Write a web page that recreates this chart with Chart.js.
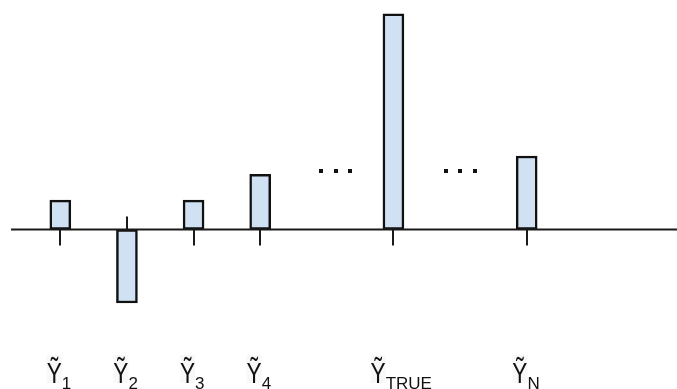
<!DOCTYPE html>
<html>
<head>
<meta charset="utf-8">
<script src="https://cdn.jsdelivr.net/npm/chart.js@4/dist/chart.umd.min.js"></script>
<style>
  html, body { margin: 0; padding: 0; background: #fff; }
  #wrap { width: 677px; height: 389px; }
</style>
</head>
<body>
<div id="wrap"><canvas id="chart" width="677" height="389"></canvas></div>
<script>
// --- data ---
const categories = ['1', '2', '3', '4', 'gap1', 'TRUE', 'gap2', 'N'];
const subscripts = ['1', '2', '3', '4', null, 'TRUE', null, 'N'];
const values = [1.2, -3, 1.2, 2.25, null, 8.8, null, 3];
const dotSlots = [4, 6];
const dotLevel = 2.4;

// axis line, ticks, dots and labels
const decorations = {
    id: 'decorations',
    afterDatasetsDraw(chart) {
        const ctx = chart.ctx;
        const xs = chart.scales.x;
        const ys = chart.scales.y;
        const y0 = ys.getPixelForValue(0);

        ctx.save();
        ctx.strokeStyle = '#1a1a1a';
        ctx.lineWidth = 2;
        ctx.beginPath();
        ctx.moveTo(11, y0);
        ctx.lineTo(chart.width, y0);
        ctx.stroke();

        values.forEach((v, i) => {
            if (v === null) return;
            const x = Math.round(xs.getPixelForValue(i));
            ctx.beginPath();
            if (v < 0) {
                ctx.moveTo(x, y0);
                ctx.lineTo(x, y0 - 13);
            } else {
                ctx.moveTo(x, y0);
                ctx.lineTo(x, y0 + 16);
            }
            ctx.stroke();
        });

        // ellipsis dots (first group sits a bit right of its slot)
        ctx.fillStyle = '#111';
        const dy = ys.getPixelForValue(dotLevel);
        const groupShift = [9, 0];
        dotSlots.forEach((i, g) => {
            const cx = xs.getPixelForValue(i) + groupShift[g];
            [-14.5, 0, 14.5].forEach(off => {
                ctx.fillRect(Math.round(cx + off - 2), Math.round(dy - 2), 4, 4);
            });
        });

        // labels: narrow tall Y with tilde, then subscript
        const mainFont = '29px "Liberation Sans", Arial, sans-serif';
        const subFont = '17px "Liberation Sans", Arial, sans-serif';
        const squash = 0.78;
        subscripts.forEach((s, i) => {
            if (s === null) return;
            const cx = xs.getPixelForValue(i);
            ctx.font = mainFont;
            const wy = ctx.measureText('Ỹ').width * squash;
            ctx.font = subFont;
            const ws = ctx.measureText(s).width;
            const gap = 0;
            const leftCentered = cx - (wy + ws + gap) / 2;
            const leftFixed = cx - 15;
            const left = (leftCentered + leftFixed) / 2;

            ctx.fillStyle = '#f8f8f8';
            ctx.fillRect(left, 355, wy, 28);

            ctx.fillStyle = '#111';
            ctx.textBaseline = 'alphabetic';
            ctx.textAlign = 'left';
            ctx.save();
            ctx.translate(left, 383);
            ctx.scale(squash, 1);
            ctx.font = mainFont;
            ctx.fillText('Ỹ', 0, 0);
            ctx.restore();
            ctx.font = subFont;
            ctx.fillText(s, left + wy + gap, 389);
        });
        ctx.restore();
    }
};

new Chart(document.getElementById('chart'), {
    type: 'bar',
    data: {
        labels: categories,
        datasets: [{
            data: values,
            backgroundColor: '#cfe1f3',
            borderColor: '#111',
            borderWidth: 2.5,
            borderSkipped: false,
            barThickness: 21
        }]
    },
    options: {
        responsive: false,
        animation: false,
        devicePixelRatio: 1,
        layout: { padding: { left: 27, right: 117, top: 0, bottom: 0 } },
        scales: {
            x: { display: false, grid: { display: false } },
            y: { display: false, min: -6.51, max: 9.367 }
        },
        plugins: {
            legend: { display: false },
            tooltip: { enabled: false }
        }
    },
    plugins: [decorations]
});
</script>
</body>
</html>
